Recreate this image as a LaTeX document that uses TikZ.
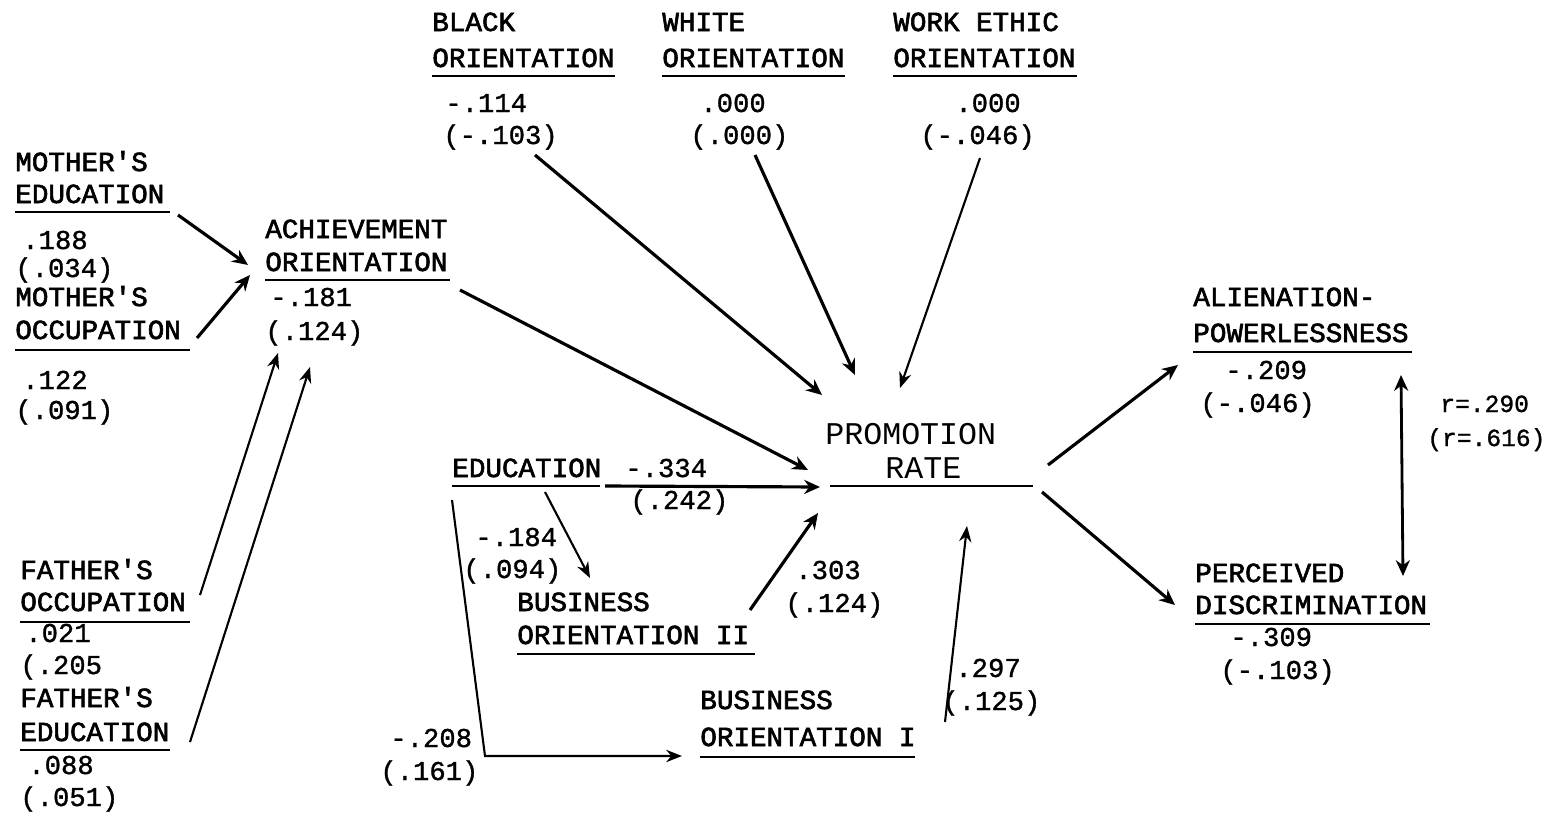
\documentclass[tikz,border=0pt]{standalone}
\usepackage{fontspec}
\setmonofont{Liberation Mono}
\newfontfamily\bmono[FakeBold=2.2]{Liberation Mono}
\newfontfamily\nmono[FakeBold=1.2]{Liberation Mono}
\newfontfamily\lmono{Liberation Mono}
\usetikzlibrary{arrows.meta}
\begin{document}
\begin{tikzpicture}[x=0.02cm,y=-0.02cm,
  t/.style={anchor=base west, inner sep=0pt, font=\bmono\fontsize{15.7}{18}\selectfont},
  n/.style={anchor=base west, inner sep=0pt, font=\nmono\fontsize{15.5}{18}\selectfont},
  p/.style={anchor=base west, inner sep=0pt, font=\lmono\fontsize{18}{20}\selectfont},
  ul/.style={line width=1.5pt},
  arr/.style={line width=1.8pt, -{Stealth[length=9pt,width=8pt]}},
  tarr/.style={line width=1.2pt, -{Stealth[length=9pt,width=7pt]}},
  darr/.style={line width=1.6pt, {Stealth[length=9pt,width=8pt]}-{Stealth[length=9pt,width=8pt]}}]
\useasboundingbox (0,0) rectangle (1555,815);
% ---------- left block ----------
\node[t] (me1) at (15,171) {MOTHER'S};
\node[t] (me2) at (15,203) {EDUCATION};
\draw[ul] ([shift={(0,9)}]me2.base west) -- ++(155,0);
\node[n] (mev) at (22,249) {.188};
\node[n] (mes) at (15,277) {(.034)};
\node[t] (mo1) at (15,306) {MOTHER'S};
\node[t] (mo2) at (15,339) {OCCUPATION};
\draw[ul] ([shift={(0,11)}]mo2.base west) -- ++(175,0);
\node[n] (mov) at (22,389) {.122};
\node[n] (mos) at (15,419) {(.091)};
\node[t] (fo1) at (20,579) {FATHER'S};
\node[t] (fo2) at (20,611) {OCCUPATION};
\draw[ul] ([shift={(0,11)}]fo2.base west) -- ++(170,0);
\node[n] (fov) at (25,642) {.021};
\node[n] (fos) at (20,674) {(.205};
\node[t] (fe1) at (20,707) {FATHER'S};
\node[t] (fe2) at (20,741) {EDUCATION};
\draw[ul] ([shift={(0,9)}]fe2.base west) -- ++(150,0);
\node[n] (fev) at (28,774) {.088};
\node[n] (fes) at (20,806) {(.051)};
% ---------- achievement ----------
\node[t] (ach1) at (265,238) {ACHIEVEMENT};
\node[t] (ach2) at (265,271) {ORIENTATION};
\draw[ul] ([shift={(0,9)}]ach2.base west) -- ++(185,0);
\node[n] (achv) at (270,306) {-.181};
\node[n] (achs) at (265,340) {(.124)};
% ---------- top ----------
\node[t] (bl1) at (432,31) {BLACK};
\node[t] (bl2) at (432,67) {ORIENTATION};
\draw[ul] ([shift={(0,9)}]bl2.base west) -- ++(183,0);
\node[n] (blv) at (445,112) {-.114};
\node[n] (bls) at (443,144) {(-.103)};
\node[t] (wh1) at (662,31) {WHITE};
\node[t] (wh2) at (662,67) {ORIENTATION};
\draw[ul] ([shift={(0,9)}]wh2.base west) -- ++(183,0);
\node[n] (whv) at (700,112) {.000};
\node[n] (whs) at (690,144) {(.000)};
\node[t] (we1) at (893,31) {WORK ETHIC};
\node[t] (we2) at (893,67) {ORIENTATION};
\draw[ul] ([shift={(0,9)}]we2.base west) -- ++(184,0);
\node[n] (wev) at (955,112) {.000};
\node[n] (wes) at (920,144) {(-.046)};
% ---------- center ----------
\node[p] (pr1) at (825,444) {PROMOTION};
\node[p] (pr2) at (885,478) {RATE};
\draw[ul] ([shift={(-55,8)}]pr2.base west) -- ++(203,0);
\node[t] (ed) at (452,477) {EDUCATION};
\draw[ul] ([shift={(0,9)}]ed.base west) -- ++(148,0);
\node[n] (edv) at (625,477) {-.334};
\node[n] (eds) at (630,509) {(.242)};
\node[n] (b2v) at (475,546) {-.184};
\node[n] (b2s) at (463,578) {(.094)};
\node[t] (b2a) at (517,611) {BUSINESS};
\node[t] (b2b) at (517,644) {ORIENTATION II};
\draw[ul] ([shift={(0,10)}]b2b.base west) -- ++(238,0);
\node[n] (b2pv) at (795,579) {.303};
\node[n] (b2ps) at (785,612) {(.124)};
\node[t] (b1a) at (700,709) {BUSINESS};
\node[t] (b1b) at (700,746) {ORIENTATION I};
\draw[ul] ([shift={(0,11)}]b1b.base west) -- ++(215,0);
\node[n] (b1pv) at (955,677) {.297};
\node[n] (b1ps) at (942,710) {(.125)};
\node[n] (b1v) at (390,747) {-.208};
\node[n] (b1s) at (380,780) {(.161)};
% ---------- right ----------
\node[t] (al1) at (1193,306) {ALIENATION-};
\node[t] (al2) at (1193,342) {POWERLESSNESS};
\draw[ul] ([shift={(0,10)}]al2.base west) -- ++(219,0);
\node[n] (alv) at (1225,379) {-.209};
\node[n] (als) at (1200,412) {(-.046)};
\node[t] (pd1) at (1195,582) {PERCEIVED};
\node[t] (pd2) at (1195,614) {DISCRIMINATION};
\draw[ul] ([shift={(0,10)}]pd2.base west) -- ++(235,0);
\node[n] (pdv) at (1230,646) {-.309};
\node[n] (pds) at (1220,679) {(-.103)};
\node[n, font=\nmono\fontsize{14}{16}\selectfont] (rv) at (1440,412) {r=.290};
\node[n, font=\nmono\fontsize{14}{16}\selectfont] (rs) at (1427,446) {(r=.616)};
% ---------- connectors ----------
\draw[arr] ([shift={(163,12)}]me2.base west) -- ([shift={(-17,-6)}]ach2.base west);
\draw[arr] ([shift={(182,-1)}]mo2.base west) -- ([shift={(-15,4)}]ach2.base west);
\draw[tarr] ([shift={(180,-16)}]fo2.base west) -- ([shift={(13,13)}]achs.base west);
\draw[tarr] ([shift={(170,1)}]fe2.base west) -- ([shift={(45,27)}]achs.base west);
\draw[arr] ([shift={(195,19)}]ach2.base west) -- ([shift={(-17,26)}]pr1.base west);
\draw[arr] ([shift={(92,11)}]bls.base west) -- ([shift={(-3,-49)}]pr1.base west);
\draw[arr] ([shift={(65,11)}]whs.base west) -- ([shift={(30,-69)}]pr1.base west);
\draw[tarr] ([shift={(60,14)}]wes.base west) -- ([shift={(75,-56)}]pr1.base west);
\draw[arr] ([shift={(153,9)}]ed.base west) -- ([shift={(-5,43)}]pr1.base west);
\draw[tarr] ([shift={(93,15)}]ed.base west) -- ([shift={(73,-33)}]b2a.base west);
\draw[tarr] ([shift={(0,23)}]ed.base west) -- ++(33,256) -- ([shift={(-18,10)}]b1b.base west);
\draw[arr] ([shift={(233,-34)}]b2b.base west) -- ([shift={(-7,69)}]pr1.base west);
\draw[tarr] ([shift={(245,-24)}]b1b.base west) -- ([shift={(82,48)}]pr2.base west);
\draw[arr] ([shift={(163,-13)}]pr2.base west) -- ([shift={(-15,23)}]al2.base west);
\draw[arr] ([shift={(157,14)}]pr2.base west) -- ([shift={(-20,-9)}]pd2.base west);
\draw[darr] ([shift={(208,33)}]al2.base west) -- ([shift={(208,-6)}]pd1.base west);
\end{tikzpicture}
\end{document}
